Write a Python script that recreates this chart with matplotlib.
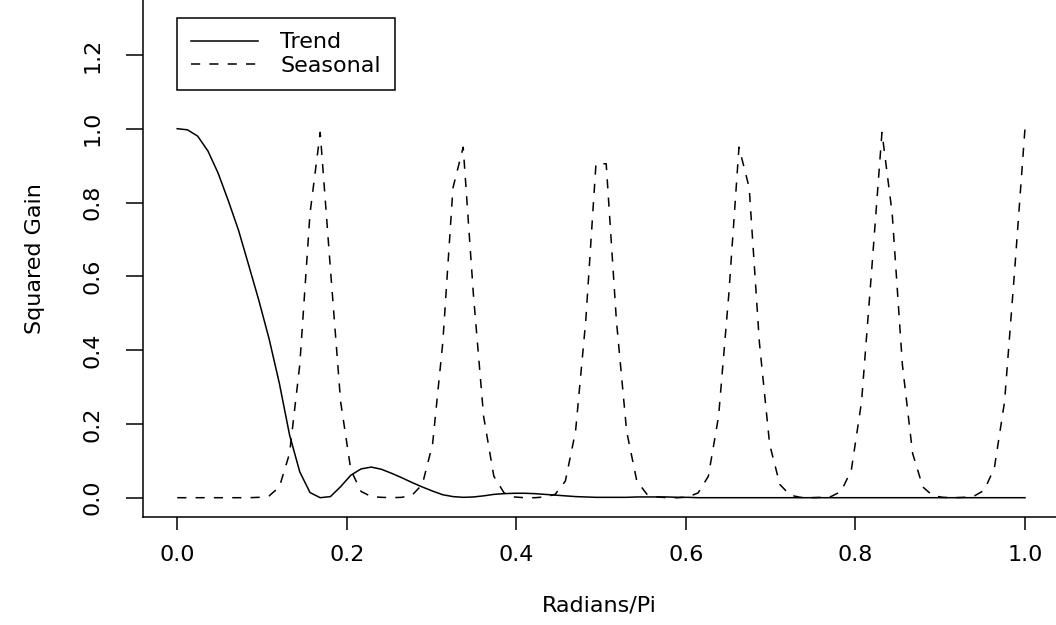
"""
Squared gain of trend and seasonal filters vs. frequency (radians/pi)
"""
import numpy as np
import matplotlib
matplotlib.use("Agg")
import matplotlib.pyplot as plt

# frequency grid: 84 evenly spaced points from 0 to 1 (radians/pi)
freq = np.arange(84) / 83

# squared gain, one value per grid point
trend_gain = [1.000, 0.997, 0.980, 0.940, 0.880, 0.805, 0.725, 0.630, 0.534, 0.430,
              0.310, 0.170, 0.070, 0.014, 0.000, 0.003, 0.030, 0.061, 0.078, 0.083,
              0.077, 0.066, 0.054, 0.041, 0.029, 0.018, 0.008, 0.003, 0.001, 0.002,
              0.005, 0.009, 0.011, 0.012, 0.012, 0.011, 0.009, 0.007, 0.005, 0.003,
              0.002, 0.001, 0.001, 0.001, 0.001, 0.002, 0.002, 0.002, 0.002, 0.001,
              0.001, 0.000, 0.000, 0.000, 0.000, 0.000, 0.000, 0.000, 0.000, 0.000,
              0.000, 0.000, 0.000, 0.000, 0.000, 0.000, 0.000, 0.000, 0.000, 0.000,
              0.000, 0.000, 0.000, 0.000, 0.000, 0.000, 0.000, 0.000, 0.000, 0.000,
              0.000, 0.000, 0.000, 0.000]

seasonal_gain = [0.000, 0.000, 0.000, 0.000, 0.000, 0.000, 0.000, 0.000, 0.001, 0.005,
                 0.029, 0.120, 0.360, 0.770, 0.990, 0.620, 0.260, 0.075, 0.017, 0.003,
                 0.001, 0.000, 0.001, 0.007, 0.036, 0.145, 0.420, 0.840, 0.950, 0.550,
                 0.220, 0.058, 0.013, 0.002, 0.000, 0.000, 0.002, 0.009, 0.045, 0.180,
                 0.480, 0.905, 0.905, 0.480, 0.180, 0.045, 0.009, 0.002, 0.000, 0.000,
                 0.002, 0.013, 0.058, 0.220, 0.550, 0.950, 0.840, 0.420, 0.145, 0.036,
                 0.007, 0.001, 0.000, 0.001, 0.003, 0.017, 0.075, 0.260, 0.620, 0.990,
                 0.770, 0.360, 0.120, 0.029, 0.005, 0.001, 0.000, 0.001, 0.004, 0.020,
                 0.080, 0.260, 0.620, 1.000]

x_ticks = [0.0, 0.2, 0.4, 0.6, 0.8, 1.0]
x_tick_labels = ['0.0', '0.2', '0.4', '0.6', '0.8', '1.0']
y_ticks = [0.0, 0.2, 0.4, 0.6, 0.8, 1.0, 1.2]
y_tick_labels = ['0.0', '0.2', '0.4', '0.6', '0.8', '1.0', '1.2']

plt.rcParams['font.family'] = ['DejaVu Sans']
FS = 16

fig = plt.figure(figsize=(10.56, 6.25), dpi=100)
W, H = 1056, 625
# plot region: left spine at x=143px, bottom spine at y=517px (from top)
ax = fig.add_axes([143.3 / W, (H - 517) / H, (W - 143.3) / W, 517 / H])

ax.plot(freq, trend_gain, color='black', lw=1.1, label='Trend')
ax.plot(freq, seasonal_gain, color='black', lw=1.1, linestyle=(0, (6, 6)),
        label='Seasonal')

ax.set_xlim(-0.04, 1.0366)
ax.set_ylim(-0.0523, 1.3488)

for side in ('top', 'right'):
    ax.spines[side].set_visible(False)
for side in ('left', 'bottom'):
    ax.spines[side].set_linewidth(1.1)

ax.set_xticks(x_ticks)
ax.set_xticklabels(x_tick_labels, fontsize=FS)
ax.set_yticks(y_ticks)
ax.set_yticklabels(y_tick_labels, fontsize=FS, rotation=90, va='center')
ax.tick_params(axis='x', length=9.4, width=1.1, pad=11)
ax.tick_params(axis='y', length=12.2, width=1.1, pad=17)

ax.set_xlabel('Radians/Pi', fontsize=FS)
ax.set_ylabel('Squared Gain', fontsize=FS)
ax.xaxis.set_label_coords(0.5, -0.152)
ax.yaxis.set_label_coords(-0.108, 0.5)

leg = ax.legend(loc='upper left', bbox_to_anchor=(177 / W, 1 - 18 / H),
                bbox_transform=fig.transFigure, borderaxespad=0,
                fontsize=FS, frameon=True, fancybox=False, framealpha=1,
                edgecolor='black', handlelength=3.0, handletextpad=1.0,
                borderpad=0.65, labelspacing=0.15)
leg.get_frame().set_linewidth(1.1)

fig.savefig('out.png', dpi=100)
